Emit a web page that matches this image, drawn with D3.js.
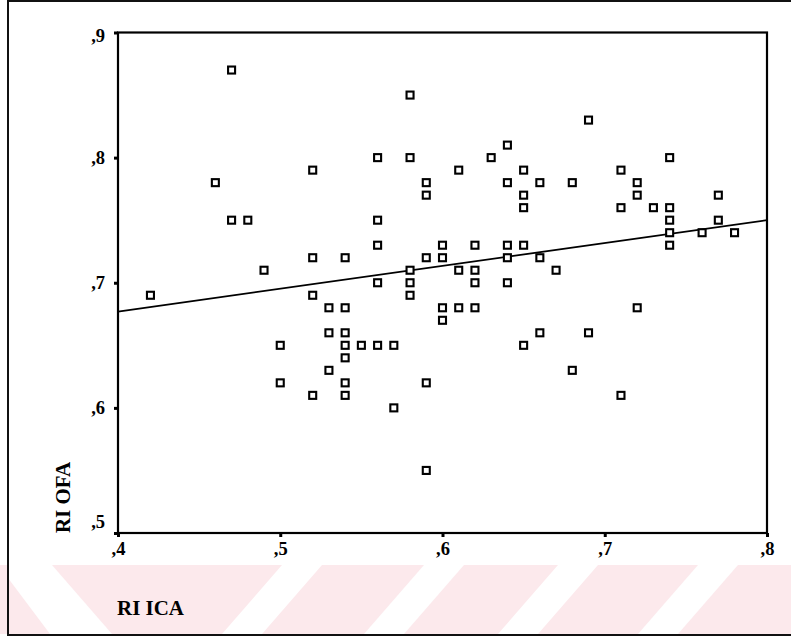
<!DOCTYPE html>
<html><head><meta charset="utf-8">
<script src="https://cdn.jsdelivr.net/npm/d3@7/dist/d3.min.js"></script>
<style>body{margin:0;background:#fff}svg{display:block}</style>
</head><body>
<script>
// RI ICA (x) and RI OFA (y) values of each case
const riICA = [0.42,0.46,0.47,0.47,0.48,0.49,0.50,0.50,0.52,0.52,0.52,0.52,0.53,0.53,0.53,
  0.54,0.54,0.54,0.54,0.54,0.54,0.54,0.55,0.56,0.56,0.56,0.56,0.56,0.57,0.57,
  0.58,0.58,0.58,0.58,0.58,0.59,0.59,0.59,0.59,0.59,0.60,0.60,0.60,0.60,
  0.61,0.61,0.61,0.62,0.62,0.62,0.62,0.63,0.64,0.64,0.64,0.64,0.64,
  0.65,0.65,0.65,0.65,0.65,0.66,0.66,0.66,0.67,0.68,0.68,0.69,0.69,
  0.71,0.71,0.71,0.72,0.72,0.72,0.73,0.74,0.74,0.74,0.74,0.74,0.76,0.77,0.77,0.78];
const riOFA = [0.69,0.78,0.87,0.75,0.75,0.71,0.65,0.62,0.79,0.72,0.69,0.61,0.68,0.66,0.63,
  0.72,0.68,0.66,0.65,0.64,0.62,0.61,0.65,0.80,0.75,0.73,0.70,0.65,0.65,0.60,
  0.85,0.80,0.71,0.70,0.69,0.78,0.77,0.72,0.62,0.55,0.73,0.72,0.68,0.67,
  0.79,0.71,0.68,0.73,0.71,0.70,0.68,0.80,0.81,0.78,0.73,0.72,0.70,
  0.79,0.77,0.76,0.73,0.65,0.78,0.72,0.66,0.71,0.78,0.63,0.83,0.66,
  0.79,0.76,0.61,0.78,0.77,0.68,0.76,0.80,0.76,0.75,0.74,0.73,0.74,0.77,0.75,0.74];
// fitted regression line values at the ends of the x range
const fitX = [0.4, 0.8];
const fitY = [0.677, 0.750];
const xTicks = [0.4, 0.5, 0.6, 0.7, 0.8];
const yTicks = [0.5, 0.6, 0.7, 0.8, 0.9];
const xTitle = "RI ICA";
const yTitle = "RI OFA";

const W = 791, H = 639;
const svg = d3.select("body").append("svg").attr("width", W).attr("height", H);
svg.append("rect").attr("width", W).attr("height", H).attr("fill", "#fff");

// faint watermark band
const band = {y0: 565, y1: 634};
svg.append("clipPath").attr("id", "bandclip").append("rect")
  .attr("x", 0).attr("y", band.y0).attr("width", W).attr("height", band.y1 - band.y0);
const bg = svg.append("g").attr("clip-path", "url(#bandclip)");
bg.append("rect").attr("x", 0).attr("y", band.y0).attr("width", W).attr("height", band.y1 - band.y0).attr("fill", "#fce9ec");
bg.append("polygon").attr("fill", "#fff")
  .attr("points", [[8,band.y0],[52,band.y0],[112,band.y1],[50,band.y1],[8,578]].join(" "));
[282, 424, 558, 698].forEach(t => {
  bg.append("polygon").attr("fill", "#fff")
    .attr("points", [[t,band.y0],[t+40,band.y0],[t-20,band.y1],[t-60,band.y1]].join(" "));
});

// outer border (left, top, bottom)
svg.append("path").attr("d", `M${W},1 L8,1 L8,635 L${W},635`)
  .attr("fill", "none").attr("stroke", "#111").attr("stroke-width", 2);

const x = d3.scaleLinear().domain([0.4, 0.8]).range([118, 767]);
const y = d3.scaleLinear().domain([0.5, 0.9]).range([533, 32.5]);
const fmt = d => "," + Math.round(d * 10);
const font = "'Liberation Serif','Times New Roman',serif";

const gx = svg.append("g").attr("transform", `translate(0,${y(0.5)})`)
  .call(d3.axisBottom(x).tickValues(xTicks).tickFormat(fmt).tickSize(4).tickPadding(6));
const gy = svg.append("g").attr("transform", `translate(${x(0.4)},0)`)
  .call(d3.axisLeft(y).tickValues(yTicks).tickFormat(fmt).tickSize(4).tickPadding(9));
[gx, gy].forEach(g => {
  g.select(".domain").remove();
  g.selectAll(".tick line").attr("stroke", "#000").attr("stroke-width", 3);
  g.selectAll(".tick text").attr("fill", "#000").attr("font-family", font)
    .attr("font-weight", "bold").attr("font-size", 18.5);
});
gx.selectAll(".tick text").attr("dy", "0.66em");
gy.selectAll(".tick text").attr("dy", d => d === 0.9 ? "0.5em" : d === 0.5 ? "-0.3em" : "0.32em");

// plot frame
svg.append("rect").attr("x", x(0.4)).attr("y", y(0.9))
  .attr("width", x(0.8) - x(0.4)).attr("height", y(0.5) - y(0.9))
  .attr("fill", "none").attr("stroke", "#000").attr("stroke-width", 2.2);

// regression line
svg.append("line")
  .attr("x1", x(fitX[0])).attr("y1", y(fitY[0]))
  .attr("x2", x(fitX[1])).attr("y2", y(fitY[1]))
  .attr("stroke", "#000").attr("stroke-width", 1.8);

// points
const pts = riICA.map((v, i) => ({x: v, y: riOFA[i]}));
svg.append("g").selectAll("rect").data(pts).join("rect")
  .attr("x", d => x(d.x) - 3.5).attr("y", d => y(d.y) - 3.5)
  .attr("width", 7).attr("height", 7)
  .attr("fill", "#fff").attr("stroke", "#000").attr("stroke-width", 2.1);

// axis titles
svg.append("text").attr("x", 117).attr("y", 615)
  .attr("font-family", font).attr("font-weight", "bold").attr("font-size", 22)
  .attr("textLength", 67).attr("lengthAdjust", "spacingAndGlyphs")
  .attr("fill", "#000").text(xTitle);
svg.append("text").attr("transform", "translate(70,533) rotate(-90)")
  .attr("font-family", font).attr("font-weight", "bold").attr("font-size", 22)
  .attr("textLength", 71).attr("lengthAdjust", "spacingAndGlyphs")
  .attr("fill", "#000").text(yTitle);
</script>
</body></html>
